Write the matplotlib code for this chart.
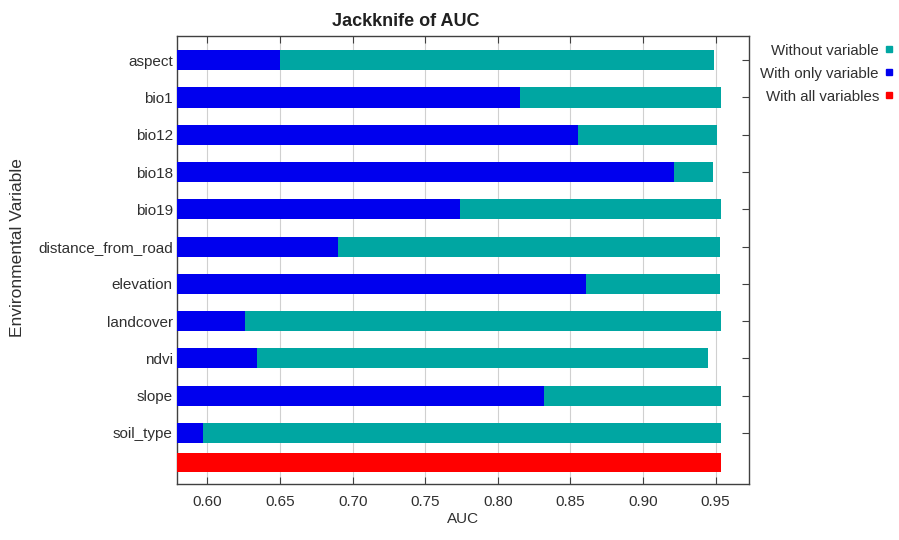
import matplotlib
matplotlib.use("Agg")
import matplotlib.pyplot as plt
from matplotlib.lines import Line2D

plt.rcParams['font.family'] = ['Liberation Sans', 'DejaVu Sans']

# data
variables = ["aspect", "bio1", "bio12", "bio18", "bio19", "distance_from_road",
             "elevation", "landcover", "ndvi", "slope", "soil_type"]
without_var = [0.949, 0.954, 0.951, 0.948, 0.954, 0.953, 0.953, 0.954, 0.945, 0.954, 0.954]
only_var = [0.650, 0.815, 0.855, 0.921, 0.774, 0.690, 0.861, 0.626, 0.634, 0.832, 0.597]
all_vars = 0.954

series_labels = ["Without variable", "With only variable", "With all variables"]
series_colors = ["#00a6a2", "#0000ee", "#ff0000"]

x_ticks = [0.60, 0.65, 0.70, 0.75, 0.80, 0.85, 0.90, 0.95]
x_min, x_max = 0.579, 0.973

txt = "#303030"

fig = plt.figure(figsize=(8.99, 5.40), dpi=100)
ax = fig.add_axes([177/899, 1-484/540, 572/899, 448/540])

ypos = list(range(len(variables)))
all_y = len(variables) - 1 + 0.8

#bars start at left edge of the axis, like maxent does it
ax.barh(ypos, [v - x_min for v in without_var], left=x_min, height=0.54,
        color=series_colors[0], zorder=2)
ax.barh(ypos, [v - x_min for v in only_var], left=x_min, height=0.54,
        color=series_colors[1], zorder=3)
ax.barh([all_y], [all_vars - x_min], left=x_min, height=0.5,
        color=series_colors[2], zorder=3)

ax.set_xlim(x_min, x_max)
ax.set_ylim(all_y + 0.57, -0.65)
ax.set_xticks(x_ticks)
ax.set_xticklabels([f"{t:.2f}" for t in x_ticks])
ax.set_yticks(ypos)
ax.set_yticklabels(variables)
ax.tick_params(axis='both', direction='in', length=5, width=0.8, colors='#404040',
               labelcolor=txt, labelsize=11, top=True, right=True)
ax.tick_params(axis='x', pad=8)
ax.tick_params(axis='y', pad=3)

ax.set_axisbelow(True)
ax.grid(axis='x', color='#d0d0d0', lw=0.8)
for sp in ax.spines.values():
    sp.set_color('#404040')
    sp.set_linewidth(1.0)

ax.set_xlabel("AUC", fontsize=11, color=txt, labelpad=2)
fig.text(18/899, 1-248/540, "Environmental Variable", rotation=90, fontsize=12.5,
         color=txt, ha='center', va='center')
fig.text(406/899, 1-21/540, "Jackknife of AUC", fontsize=13, fontweight='bold',
         color='#202020', ha='center', va='center')

#legend outside on the right, text right aligned with square after it
leg_y = [51, 74, 97]
for lab, col, y in zip(series_labels, series_colors, leg_y):
    fig.text(879/899, 1-y/540, lab, fontsize=10.8, color=txt, ha='right', va='center')
    fig.add_artist(Line2D([889/899], [1-(y-2)/540], marker='s', ms=4.5, color=col,
                          transform=fig.transFigure))

fig.savefig("out.png", dpi=100)
